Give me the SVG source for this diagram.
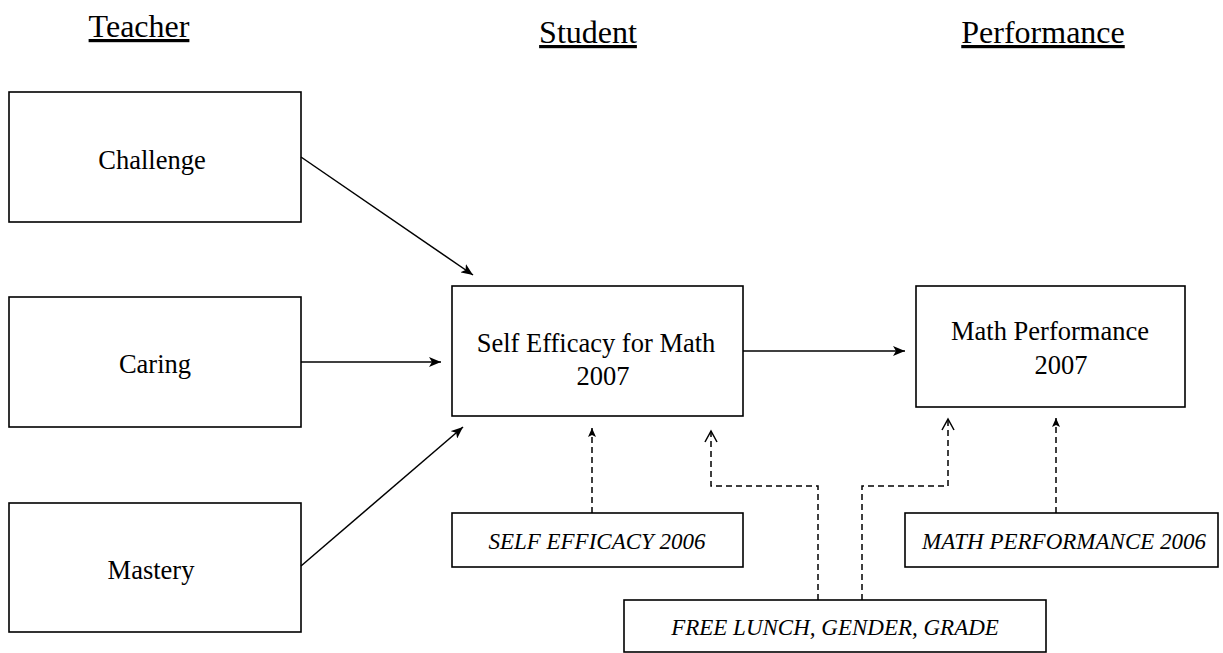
<svg xmlns="http://www.w3.org/2000/svg" width="1223" height="653" viewBox="0 0 1223 653">
<style>
.box{fill:#fff;stroke:#000;stroke-width:1.6}
.t{font-family:"Liberation Serif","Times New Roman",serif;fill:#000;text-anchor:middle}
.h{font-size:32px;text-decoration:underline}
.n{font-size:26.5px}
.i{font-size:23px;font-style:italic}
.c{fill:none;stroke:#000;stroke-width:1.5}
.d{fill:none;stroke:#000;stroke-width:1.5;stroke-dasharray:6 4}
</style>
<defs>
<marker id="a" markerWidth="14" markerHeight="10" refX="12" refY="5" orient="auto" markerUnits="userSpaceOnUse">
<path d="M0,0 L12,5 L0,10 L3,5 z" fill="#000"/>
</marker>
<marker id="f" markerWidth="10" markerHeight="10" refX="9" refY="4" orient="auto" markerUnits="userSpaceOnUse">
<path d="M0,0 L9,4 L0,8 L2,4 z" fill="#000"/>
</marker>
<marker id="o" markerWidth="14" markerHeight="14" refX="12" refY="7" orient="auto" markerUnits="userSpaceOnUse">
<path d="M1,1 L12,7 L1,13" fill="none" stroke="#000" stroke-width="1.5"/>
</marker>
</defs>
<g id="headings">
<text class="t h" x="139" y="37">Teacher</text>
<text class="t h" x="588" y="43">Student</text>
<text class="t h" x="1043" y="43">Performance</text>
</g>
<g id="challenge">
<rect class="box" x="9" y="92" width="292" height="130"/>
<text class="t n" x="152" y="169">Challenge</text>
</g>
<g id="caring">
<rect class="box" x="9" y="297" width="292" height="130"/>
<text class="t n" x="155" y="373">Caring</text>
</g>
<g id="mastery">
<rect class="box" x="9" y="503" width="292" height="129"/>
<text class="t n" x="151" y="579">Mastery</text>
</g>
<g id="self-efficacy">
<rect class="box" x="452" y="286" width="291" height="130"/>
<text class="t n" x="596" y="352">Self Efficacy for Math</text>
<text class="t n" x="603" y="385">2007</text>
</g>
<g id="math-performance">
<rect class="box" x="916" y="286" width="269" height="121"/>
<text class="t n" x="1050" y="340">Math Performance</text>
<text class="t n" x="1061" y="374">2007</text>
</g>
<g id="self-efficacy-2006">
<rect class="box" x="452" y="513" width="291" height="54"/>
<text class="t i" x="597" y="549">SELF EFFICACY 2006</text>
</g>
<g id="math-performance-2006">
<rect class="box" x="905" y="513" width="313" height="54"/>
<text class="t i" x="1064" y="549">MATH PERFORMANCE 2006</text>
</g>
<g id="covariates">
<rect class="box" x="624" y="600" width="422" height="52"/>
<text class="t i" x="835" y="635">FREE LUNCH, GENDER, GRADE</text>
</g>
<g id="connectors">
<line class="c" x1="301" y1="157" x2="473" y2="275" marker-end="url(#a)"/>
<line class="c" x1="301" y1="362" x2="441" y2="362" marker-end="url(#a)"/>
<line class="c" x1="301" y1="566" x2="463" y2="427" marker-end="url(#a)"/>
<line class="c" x1="743" y1="351" x2="905" y2="351" marker-end="url(#a)"/>
<line class="d" x1="592" y1="513" x2="592" y2="428" marker-end="url(#f)"/>
<line class="d" x1="1056" y1="513" x2="1056" y2="418" marker-end="url(#f)"/>
<polyline class="d" points="818,600 818,486 711,486 711,431" marker-end="url(#o)"/>
<polyline class="d" points="862,600 862,486 948,486 948,419" marker-end="url(#o)"/>
</g>
</svg>
